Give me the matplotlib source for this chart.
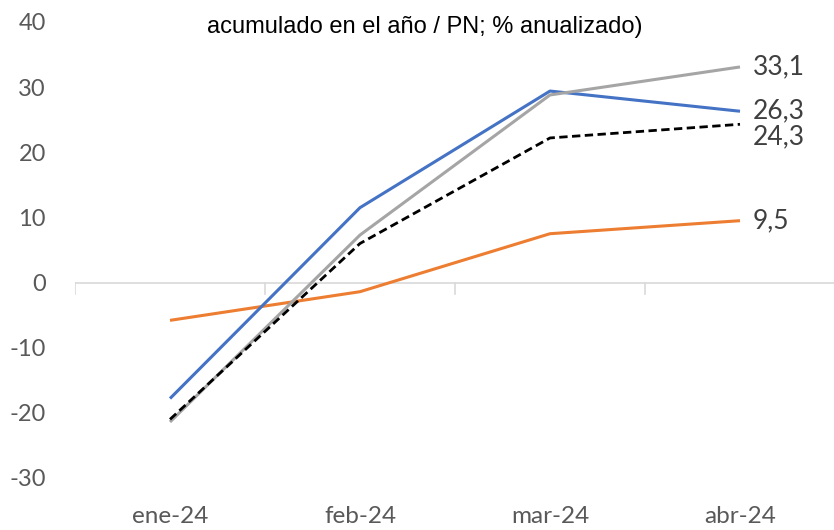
import matplotlib
matplotlib.use("Agg")
import matplotlib.pyplot as plt

months = ["ene-24", "feb-24", "mar-24", "abr-24"]
blue_vals = [-17.8, 11.5, 29.4, 26.3]
gray_vals = [-21.4, 7.3, 28.8, 33.1]
black_vals = [-21.0, 6.0, 22.2, 24.3]
orange_vals = [-5.8, -1.4, 7.5, 9.5]
yticks = [-30, -20, -10, 0, 10, 20, 30, 40]
title_line = "acumulado en el año / PN; % anualizado)"

fig = plt.figure(figsize=(8.34, 5.30), dpi=100)
ax = fig.add_axes([75/834, 52/530, 760/834, 456/530])

x = range(len(months))
ax.plot(x, orange_vals, color="#ED7D31", lw=2.2, solid_capstyle="butt")
ax.plot(x, blue_vals, color="#4472C4", lw=2.2, solid_capstyle="butt")
ax.plot(x, gray_vals, color="#A5A5A5", lw=2.2, solid_capstyle="butt")
ax.plot(x, black_vals, color="black", lw=2.0, ls=(0, (3, 1.6)))

# zero line with category tick marks
ax.axhline(0, color="#d9d9d9", lw=1.2, zorder=0)
for b in [-0.5, 0.5, 1.5, 2.5]:
    ax.plot([b, b], [0, -1.7], color="#d9d9d9", lw=1.2, zorder=0)

# end labels
offsets = {"gray": 0, "blue": 0, "black": -9, "orange": 0}
for name, vals in [("gray", gray_vals), ("blue", blue_vals),
                   ("black", black_vals), ("orange", orange_vals)]:
    ax.annotate(f"{vals[-1]:.1f}".replace(".", ","), (3, vals[-1]),
                xytext=(9, offsets[name]), textcoords="offset points",
                ha="left", va="center", fontsize=19, color="#404040",
                family="Lato")

ax.set_xlim(-0.5, 3.5)
ax.set_ylim(-30, 40)
ax.set_yticks(yticks)
ax.set_yticklabels([str(v) for v in yticks])
ax.set_xticks(list(x))
ax.set_xticklabels(months)
for s in ax.spines.values():
    s.set_visible(False)
ax.tick_params(axis="y", length=0, pad=21, labelsize=17, labelcolor="#595959")
ax.tick_params(axis="x", length=0, pad=20, labelsize=17.5, labelcolor="#595959")
for lab in ax.get_xticklabels() + ax.get_yticklabels():
    lab.set_family("Lato")

fig.text(425/834, 1 - 27/530, title_line, ha="center", va="center",
         fontsize=17, family="Liberation Sans", color="black")

fig.savefig("out.png", dpi=100)
